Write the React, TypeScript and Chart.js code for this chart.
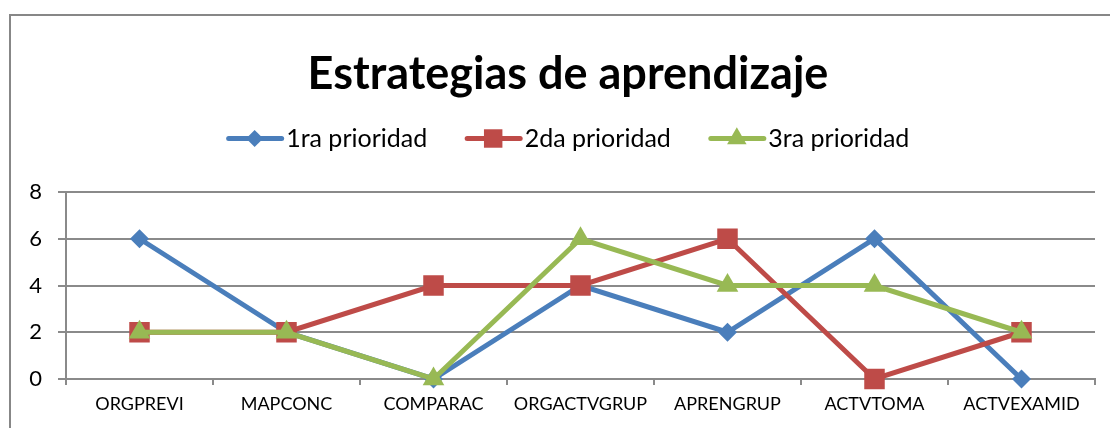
import React, { useEffect, useRef } from "react";
import { Chart, registerables } from "chart.js";

Chart.register(...registerables);

const categories = ["ORGPREVI", "MAPCONC", "COMPARAC", "ORGACTVGRUP", "APRENGRUP", "ACTVTOMA", "ACTVEXAMID"];
const seriesNames = ["1ra prioridad", "2da prioridad", "3ra prioridad"];
const serie1 = [6, 2, 0, 4, 2, 6, 0];
const serie2 = [2, 2, 4, 4, 6, 0, 2];
const serie3 = [2, 2, 0, 6, 4, 4, 2];
const yTicks = [0, 2, 4, 6, 8];

const COLORS = ["#4a7ebb", "#be4b48", "#98b954"];
const STYLES = ["rectRot", "rect", "triangle"];
const RADII = [9.5, 14.5, 12.5];
const FONT = "Lato, 'Liberation Sans', sans-serif";
const HEADER_SHIFT = 41;

function drawMarker(ctx: CanvasRenderingContext2D, style: string, x: number, y: number, r: number, color: string) {
  ctx.save();
  ctx.fillStyle = color;
  ctx.beginPath();
  if (style === "rectRot") {
    ctx.moveTo(x, y - r);
    ctx.lineTo(x + r, y);
    ctx.lineTo(x, y + r);
    ctx.lineTo(x - r, y);
  } else if (style === "rect") {
    const s = r * Math.SQRT1_2;
    ctx.rect(x - s, y - s, 2 * s, 2 * s);
  } else {
    ctx.moveTo(x, y - r);
    ctx.lineTo(x + r * 0.866, y + r * 0.5);
    ctx.lineTo(x - r * 0.866, y + r * 0.5);
  }
  ctx.closePath();
  ctx.fill();
  ctx.restore();
}

const headerShift = {
  id: "headerShift",
  afterLayout(chart: any) {
    [chart.titleBlock, chart.legend].forEach((b: any) => {
      if (b) {
        b.left += HEADER_SHIFT;
      }
    });
  },
};

const legendMarkers = {
  id: "legendMarkers",
  afterDraw(chart: any) {
    const legend = chart.legend;
    if (!legend || !legend.legendHitBoxes) return;
    const ctx = chart.ctx as CanvasRenderingContext2D;
    legend.legendHitBoxes.forEach((hb: any, i: number) => {
      const item = legend.legendItems[i];
      const di = item.datasetIndex;
      const y = hb.top + hb.height / 2;
      ctx.save();
      ctx.strokeStyle = COLORS[di];
      ctx.lineWidth = 5;
      ctx.lineCap = "round";
      ctx.beginPath();
      ctx.moveTo(hb.left + 2, y);
      ctx.lineTo(hb.left + 55, y);
      ctx.stroke();
      ctx.restore();
      drawMarker(ctx, STYLES[di], hb.left + 28, y, RADII[di] * 0.9, COLORS[di]);
    });
  },
};

export default function App() {
  const ref = useRef<HTMLCanvasElement | null>(null);
  useEffect(() => {
    if (!ref.current) return;
    const values = [serie1, serie2, serie3];
    const chart = new Chart(ref.current, {
      type: "line",
      data: {
        labels: categories,
        datasets: values.map((v, i) => ({
          label: seriesNames[i],
          data: v,
          borderColor: COLORS[i],
          backgroundColor: COLORS[i],
          borderWidth: 5,
          pointStyle: STYLES[i] as any,
          pointRadius: RADII[i],
          pointHoverRadius: RADII[i],
          pointBackgroundColor: COLORS[i],
          pointBorderColor: COLORS[i],
          pointBorderWidth: 0,
          tension: 0,
          clip: false as any,
          order: 3 - i,
        })),
      },
      options: {
        responsive: false,
        animation: false,
        events: [],
        layout: { padding: { left: 0, right: 15, top: 0, bottom: 0 } },
        plugins: {
          tooltip: { enabled: false },
          title: {
            display: true,
            text: "Estrategias de aprendizaje",
            color: "#000",
            font: { family: FONT, size: 45, weight: "bold", lineHeight: 1 },
            padding: { top: 52, bottom: -9 },
          },
          subtitle: {
            display: true,
            text: "",
            weight: 500,
            font: { size: 10, lineHeight: 1.2 },
            padding: { top: 9.5, bottom: 9.5 },
          } as any,
          legend: {
            display: true,
            position: "top",
            labels: {
              boxWidth: 47,
              boxHeight: 5,
              padding: 38,
              color: "#000",
              font: { family: FONT, size: 25 },
              sort: (a: any, b: any) => a.datasetIndex - b.datasetIndex,
              generateLabels: (chart: any) =>
                chart.data.datasets.map((ds: any, i: number) => ({
                  text: ds.label,
                  fillStyle: "rgba(0,0,0,0)",
                  strokeStyle: "rgba(0,0,0,0)",
                  lineWidth: 0,
                  datasetIndex: i,
                  hidden: false,
                })),
            },
          },
        },
        scales: {
          x: {
            type: "category",
            offset: true,
            grid: {
              offset: true,
              drawOnChartArea: false,
              drawTicks: true,
              tickLength: 6,
              color: "#8a8a8a",
              lineWidth: 2,
            },
            border: { display: true, color: "#8a8a8a", width: 2 },
            ticks: {
              color: "#000",
              font: { family: FONT, size: 18 },
              padding: 8,
              maxRotation: 0,
              autoSkip: false,
            },
            afterFit: (scale: any) => {
              scale.height = 49;
            },
          },
          y: {
            min: 0,
            max: 8,
            afterBuildTicks: (scale: any) => {
              scale.ticks = yTicks.map((v) => ({ value: v }));
            },
            grid: {
              color: "#8a8a8a",
              lineWidth: 2,
              tickLength: 8,
              drawTicks: true,
            },
            border: { display: true, color: "#8a8a8a", width: 2 },
            ticks: {
              color: "#000",
              font: { family: FONT, size: 22 },
              padding: 16,
            },
            afterFit: (scale: any) => {
              scale.width = 66;
            },
          },
        },
      },
      plugins: [headerShift, legendMarkers],
    });
    return () => chart.destroy();
  }, []);

  return (
    <div
      style={{
        position: "fixed",
        left: 0,
        top: 0,
        width: 1110,
        height: 428,
        overflow: "hidden",
        background: "#fff",
      }}
    >
      <div
        style={{
          position: "absolute",
          left: 9,
          top: 14,
          width: 1300,
          height: 600,
          borderLeft: "2px solid #878787",
          borderTop: "2px solid #878787",
        }}
      />
      <canvas ref={ref} width={1110} height={428} style={{ position: "absolute", left: 0, top: 0 }} />
    </div>
  );
}
